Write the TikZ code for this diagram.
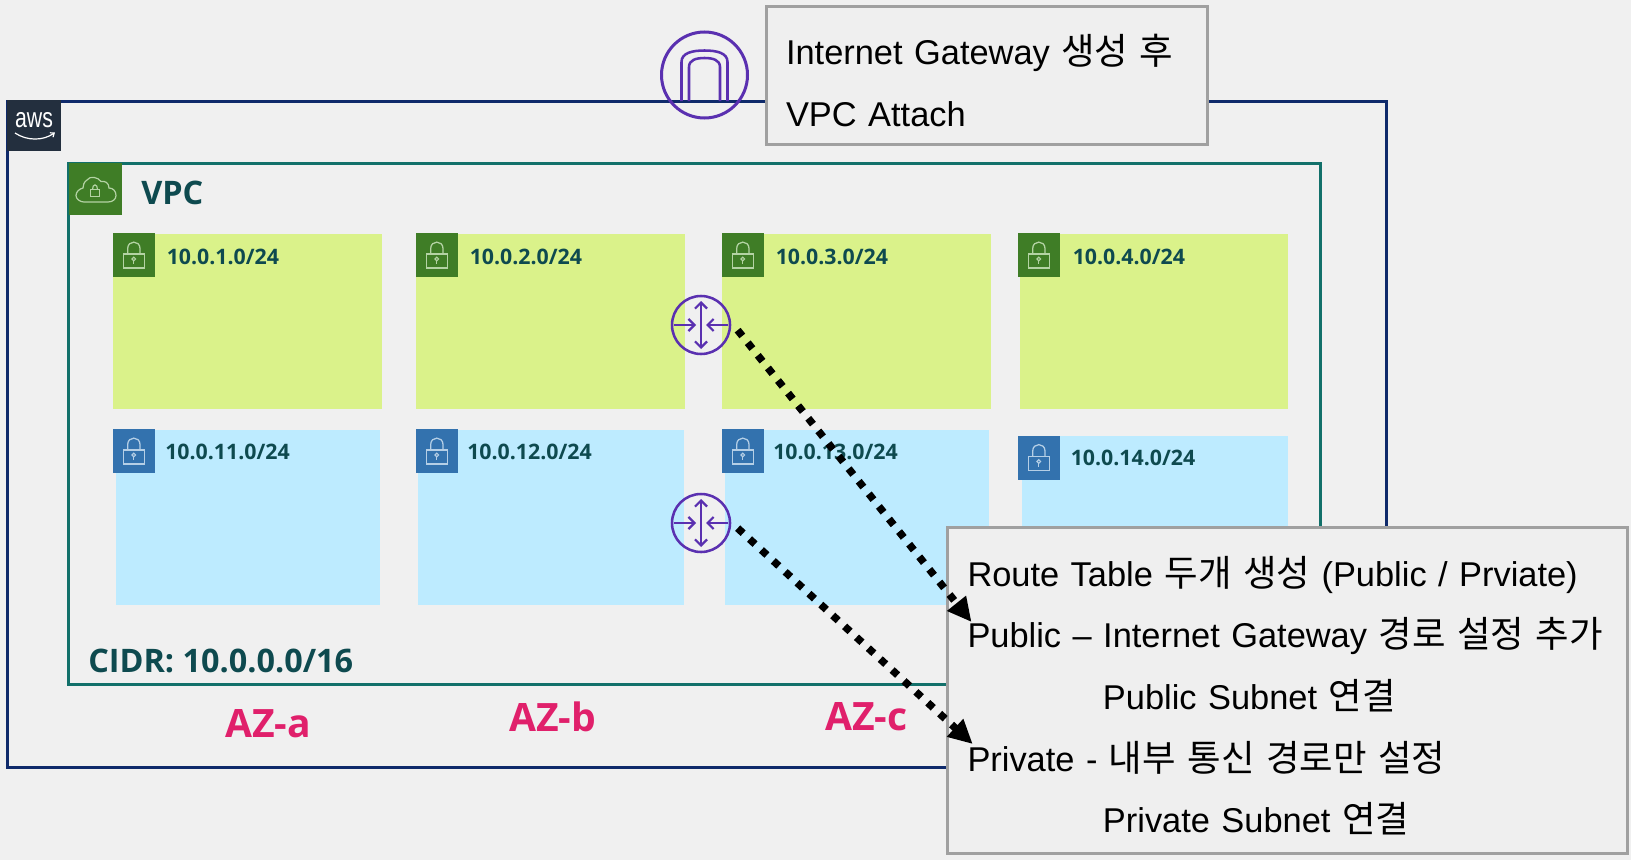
\documentclass[tikz,border=0pt]{standalone}
\usepackage{fontspec}
\usetikzlibrary{arrows.meta}
\setmainfont{Liberation Sans}
\newfontfamily\labelfont{Open Sans}
\newfontfamily\kr[Scale=1.06]{Noto Sans CJK KR}
\definecolor{pagebg}{HTML}{F0F0F0}
\definecolor{awsline}{HTML}{0F2A6B}
\definecolor{vpcline}{HTML}{12706A}
\definecolor{awsdark}{HTML}{232F3E}
\definecolor{icongreen}{HTML}{3F7D26}
\definecolor{iconblue}{HTML}{3372AE}
\definecolor{strokegreen}{HTML}{B4D3A4}
\definecolor{strokeblue}{HTML}{B5CFE6}
\definecolor{subgreen}{HTML}{DAF28A}
\definecolor{subblue}{HTML}{BDEBFF}
\definecolor{purple}{HTML}{5A30B0}
\definecolor{labeltxt}{HTML}{0E4A4F}
\definecolor{azpink}{HTML}{E0206B}
\definecolor{boxline}{HTML}{A0A0A0}
\definecolor{boxfill}{HTML}{EFEFEF}
\newcommand{\pxu}{0.75pt}
\newcommand{\zone}[6]{\node[#6,minimum width={(#4-#2)*\pxu},minimum height={(#5-#3)*\pxu}] (#1) at ({(#2+#4)/2},{(#3+#5)/2}) {};}
\newcommand{\lockat}[5]{\node[lockbox,fill=#4] (#1) at (#2,#3) {}; \pic at (#1.north west) {padlock=#5};}
\newcommand{\firstline}{\rule{0pt}{31pt}}
\tikzset{
  frame/.style={draw,line width=2.25pt,inner sep=0pt,outer sep=0pt},
  area/.style={inner sep=0pt,outer sep=0pt,fill=#1},
  lockbox/.style={anchor=north west,inner sep=0pt,outer sep=0pt,minimum width=42*\pxu,minimum height=44*\pxu},
  sublabel/.style={anchor=base west,inner sep=0pt,text=labeltxt,font=\labelfont\bfseries\fontsize{16}{18}\selectfont},
  biglabel/.style={anchor=base west,inner sep=0pt,text=labeltxt,font=\labelfont\bfseries\fontsize{24.3}{28}\selectfont},
  azlabel/.style={anchor=base west,inner sep=0pt,text=azpink,font=\labelfont\bfseries\fontsize{29.3}{32}\selectfont},
  routernode/.style={circle,draw=purple,line width=1.9pt,inner sep=0pt,minimum size=58*\pxu,outer sep=8*\pxu},
  msgbox/.style={draw=boxline,fill=boxfill,line width=2.25pt,inner xsep=20*\pxu,inner ysep=0pt,outer sep=0pt,align=left,
     font=\fontsize{25.8}{46.2}\selectfont},
  dotted link/.style={line width=5.6pt,dash pattern=on 5.6pt off 6.5pt,-{Triangle[length=18pt,width=17pt]}},
  pics/padlock/.style={code={
    \draw[#1,line width=0.95pt] (10.5,21) rectangle (31.5,35);
    \draw[#1,line width=0.95pt] (14.7,21) -- (14.7,15.5) .. controls (14.7,7) and (27,7) .. (27,15.5) -- (27,21);
    \draw[#1,line width=0.85pt] (20.8,26) circle[radius=1.8];
    \draw[#1,line width=0.85pt] (20.8,27.5) -- (20.8,31);
  }},
  pics/routerglyph/.style={code={
    \draw[purple,line width=1.7pt,{Straight Barb[length=4.5pt,width=9pt]}-{Straight Barb[length=4.5pt,width=9pt]}] (0,-24) -- (0,24);
    \draw[purple,line width=1.7pt,-{Straight Barb[length=4.5pt,width=9pt]}] (-27,0) -- (-5,0);
    \draw[purple,line width=1.7pt,-{Straight Barb[length=4.5pt,width=9pt]}] (27,0) -- (5,0);
  }}
}
\begin{document}
\begin{tikzpicture}[x=0.75pt,y=-0.75pt]
\useasboundingbox (0,0) rectangle (1631,860);
\fill[pagebg] (0,0) rectangle (1631,860);
% AWS cloud
\zone{awsbox}{7.5}{101}{1386}{767}{frame,draw=awsline}
\node[inner sep=0pt,outer sep=0pt,fill=awsdark,anchor=north west,minimum width=54*\pxu,minimum height=51*\pxu] (awslogo) at (7,100) {};
\node[inner sep=0pt,text=white,xscale=0.76,font=\fontsize{21}{24}\selectfont] (awstext) at (34,120) {aws};
\coordinate (smileL) at (15,133);
\coordinate (smileR) at (55,132.5);
\draw[white,line width=0.9pt,-{Straight Barb[length=2.5pt,width=4pt]}] (smileL) .. controls (27,141) and (43,141) .. (smileR);
% VPC
\zone{vpcbox}{68.5}{163.7}{1320}{684.7}{frame,draw=vpcline}
\node[inner sep=0pt,outer sep=0pt,fill=icongreen,anchor=north west,minimum width=53*\pxu,minimum height=52*\pxu] (vpcicon) at (69,163) {};
\draw[strokegreen,line width=0.9pt] (84,202) -- (108,202) .. controls (113,202) and (116,199) .. (116,195.5) .. controls (116,191) and (113,188) .. (109,188) .. controls (109,183) and (105,180.5) .. (101,181.5) .. controls (98,177) and (90,175.5) .. (87,180) .. controls (84,182) and (83,185) .. (83,188) .. controls (79,189) and (76,192) .. (76,195.5) .. controls (76,199) and (80,202) .. (84,202) -- cycle;
\draw[strokegreen,line width=0.9pt] (90.7,189.3) rectangle (99.3,196.7);
\draw[strokegreen,line width=0.9pt] (92.5,189.3) .. controls (92.5,183.5) and (97.5,183.5) .. (97.5,189.3);
\node[biglabel] (vpclabel) at (141,204) {VPC};
\node[biglabel] (cidrlabel) at (88,672) {CIDR: 10.0.0.0/16};
% Public subnets
\zone{pub1}{113}{233.5}{382}{409}{area=subgreen}
\zone{pub2}{416}{233.5}{685}{409}{area=subgreen}
\zone{pub3}{722}{233.5}{991}{409}{area=subgreen}
\zone{pub4}{1020}{233.5}{1288}{409}{area=subgreen}
\lockat{li1}{113}{233}{icongreen}{strokegreen}
\lockat{li2}{416}{233}{icongreen}{strokegreen}
\lockat{li3}{722}{233}{icongreen}{strokegreen}
\lockat{li4}{1018}{233}{icongreen}{strokegreen}
\node[sublabel] (ll1) at (166.5,264) {10.0.1.0/24};
\node[sublabel] (ll2) at (469.5,264) {10.0.2.0/24};
\node[sublabel] (ll3) at (775.5,264) {10.0.3.0/24};
\node[sublabel] (ll4) at (1072.5,264) {10.0.4.0/24};
% Private subnets
\zone{prv1}{116}{430}{380}{604.5}{area=subblue}
\zone{prv2}{418}{430}{684}{604.5}{area=subblue}
\zone{prv3}{725}{430}{989}{604.5}{area=subblue}
\zone{prv4}{1022}{436}{1288}{604.5}{area=subblue}
\lockat{lp1}{113}{429}{iconblue}{strokeblue}
\lockat{lp2}{416}{429}{iconblue}{strokeblue}
\lockat{lp3}{722}{429}{iconblue}{strokeblue}
\lockat{lp4}{1018}{435.5}{iconblue}{strokeblue}
\node[sublabel] (lq1) at (165,459) {10.0.11.0/24};
\node[sublabel] (lq2) at (467,459) {10.0.12.0/24};
\node[sublabel] (lq3) at (773,459) {10.0.13.0/24};
\node[sublabel] (lq4) at (1070.5,465) {10.0.14.0/24};
% AZ labels
\node[azlabel] (aza) at (225,737) {AZ-a};
\node[azlabel] (azb) at (509,731) {AZ-b};
\node[azlabel] (azc) at (825,730) {AZ-c};
% Routers
\node[routernode] (router1) at (701,325) {};
\pic at (router1.center) {routerglyph};
\node[routernode] (router2) at (701,523) {};
\pic at (router2.center) {routerglyph};
% Internet gateway
\node[circle,draw=purple,line width=2.25pt,inner sep=0pt,outer sep=0pt,minimum size=86*\pxu] (igw) at (704.5,75) {};
\draw[purple,line width=1.9pt] (681.5,101) -- (681.5,62) .. controls (681.5,53) and (692,50.5) .. (704.5,50.5) .. controls (717,50.5) and (727.5,53) .. (727.5,62) -- (727.5,101);
\draw[purple,line width=1.9pt] (689,101) -- (689,67) .. controls (689,60) and (696,58) .. (704.5,58) .. controls (713,58) and (720,60) .. (720,67) -- (720,101);
% Note boxes
\node[msgbox,anchor=north west,minimum width=441*\pxu,minimum height=138*\pxu,text width=401*\pxu] (gwnote) at (766,6) {\firstline Internet Gateway {\kr 생성 후}\\VPC Attach};
\node[msgbox,anchor=north west,minimum width=680*\pxu,minimum height=326*\pxu,text width=640*\pxu] (rtnote) at (947.5,527) {\firstline Route Table {\kr 두개 생성} (Public / Prviate)\\Public – Internet Gateway {\kr 경로 설정 추가}\\\hspace*{101.6pt}Public Subnet {\kr 연결}\\Private - {\kr 내부 통신 경로만 설정}\\\hspace*{101.6pt}Private Subnet {\kr 연결}};
% Connectors
\coordinate (tipA) at (971.5,622);
\coordinate (tipB) at (972.7,744);
\draw[dotted link] (router1.-8) -- (tipA);
\draw[dotted link] (router2.-8) -- (tipB);
\end{tikzpicture}
\end{document}
